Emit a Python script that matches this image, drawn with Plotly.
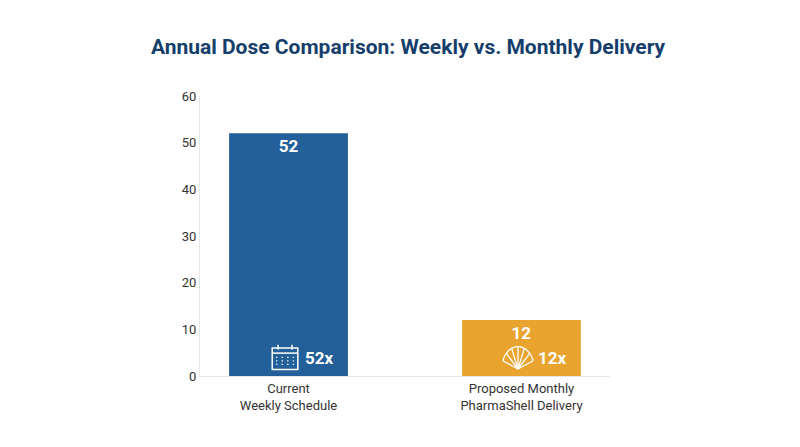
import math
import plotly.graph_objects as go

categories = ["Current<br>Weekly Schedule", "Proposed Monthly<br>PharmaShell Delivery"]
doses = [52, 12]
badges = ["52x", "12x"]
colors = ["#23609a", "#e8a42f"]

fig = go.Figure()
fig.add_trace(go.Bar(
    x=[0, 1], y=doses, width=0.51, marker=dict(color=colors, line=dict(width=0)),
    text=[f"<b>{d}</b>" for d in doses], textposition="inside", insidetextanchor="end",
    textfont=dict(color="white", size=17, family="Roboto"), hoverinfo="skip",
))

# badge labels near bottom of bars
for i, b in enumerate(badges):
    fig.add_annotation(x=i + 0.135, y=3.8, text=f"<b>{b}</b>", showarrow=False,
                       font=dict(color="white", size=17, family="Roboto"))

# calendar icon
cx, cy = -0.015, 3.8
fig.add_shape(type="rect", x0=cx - 0.055, x1=cx + 0.055, y0=cy - 2.4, y1=cy + 2.2,
              line=dict(color="white", width=1.5))
fig.add_shape(type="line", x0=cx - 0.055, x1=cx + 0.055, y0=cy + 1.1, y1=cy + 1.1,
              line=dict(color="white", width=1.5))
for dx in (-0.03, 0.03):
    fig.add_shape(type="line", x0=cx + dx, x1=cx + dx, y0=cy + 1.8, y1=cy + 2.9,
                  line=dict(color="white", width=1.5))
for r in range(3):
    for c in range(4):
        fig.add_shape(type="rect", x0=cx - 0.036 + c * 0.024 - 0.003, x1=cx - 0.036 + c * 0.024 + 0.003,
                      y0=cy + 0.2 - r * 0.75 - 0.12, y1=cy + 0.2 - r * 0.75 + 0.12,
                      fillcolor="white", line=dict(width=0))

# shell icon (fan)
sx, sy = 0.985, 1.5
ribs = 6
rx, ry = 0.07, 4.8
for k in range(ribs + 1):
    a = math.pi * (0.12 + 0.76 * k / ribs)
    fig.add_shape(type="line", x0=sx, y0=sy, x1=sx + rx * math.cos(a), y1=sy + ry * math.sin(a),
                  line=dict(color="white", width=1.3))
fig.add_shape(type="path",
              path=" ".join(
                  (("M" if k == 0 else "L") + f" {sx + rx * math.cos(math.pi * (0.12 + 0.76 * k / 24))},{sy + ry * math.sin(math.pi * (0.12 + 0.76 * k / 24))}")
                  for k in range(25)),
              line=dict(color="white", width=1.3))

fig.update_layout(
    width=800, height=447, plot_bgcolor="white", paper_bgcolor="white",
    margin=dict(l=192, r=198, t=88, b=79), showlegend=False,
    title=dict(text="<b>Annual Dose Comparison: Weekly vs. Monthly Delivery</b>", x=0.5, y=0.93,
               xanchor="center", font=dict(size=21, color="#163e6b", family="Roboto")),
    font=dict(family="Roboto", color="#333333"),
)
fig.update_xaxes(range=[-0.38, 1.38], tickvals=[0, 1], ticktext=categories, showline=True,
                 linecolor="#e6e6e6", tickfont=dict(size=13, color="#333333"), showgrid=False)
fig.update_yaxes(range=[0, 60], dtick=10, showline=True, linecolor="#e6e6e6", showgrid=False,
                 zeroline=False, tickfont=dict(size=13, color="#333333"), ticklen=0)
fig.write_html("out.html")
